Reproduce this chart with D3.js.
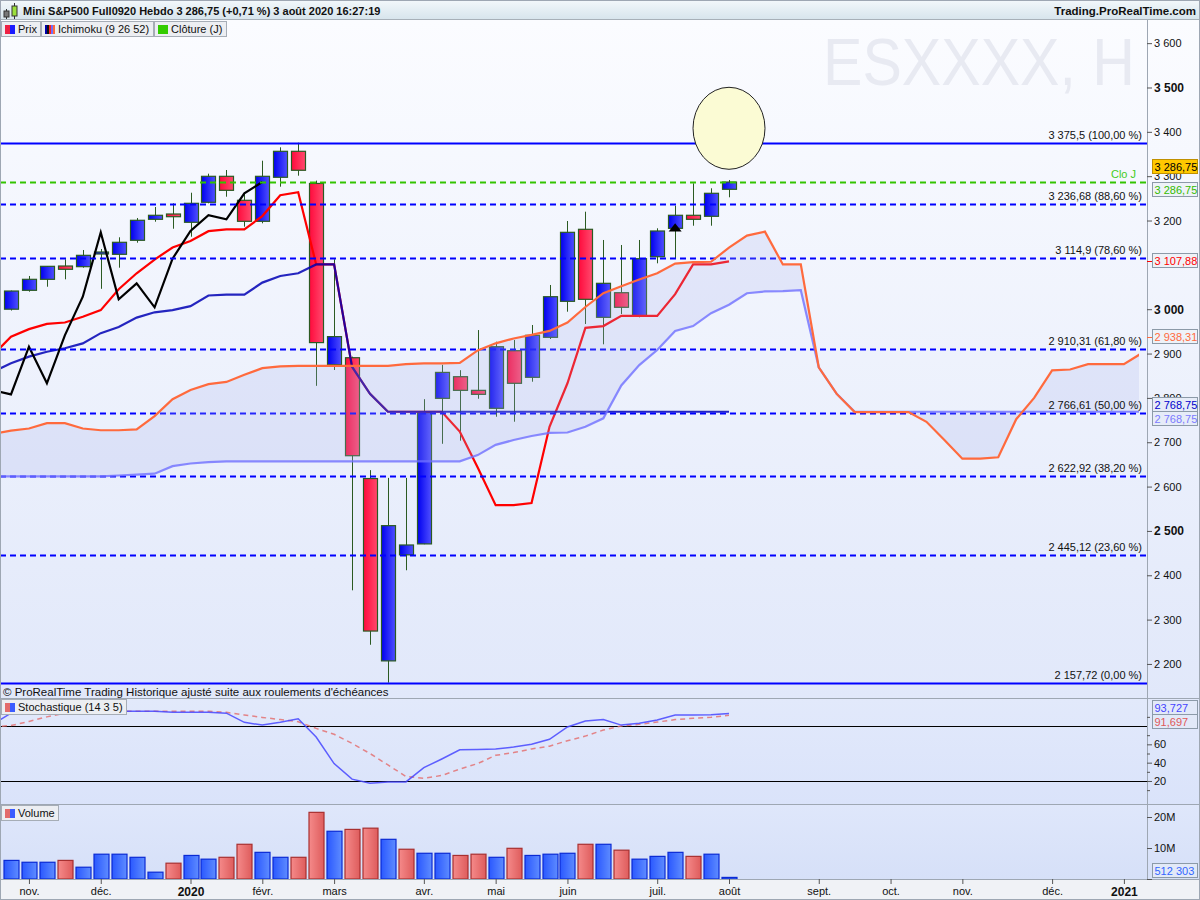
<!DOCTYPE html>
<html>
<head>
<meta charset="utf-8">
<script src="https://cdn.jsdelivr.net/npm/d3@7"></script>
<style>
  body { margin: 0; background: #fff; }
  svg { display: block; }
  text { font-family: "Liberation Sans", Arial, sans-serif; }
</style>
</head>
<body>
<svg id="chart" width="1200" height="900"></svg>
<script>
// weekly candles, bar 0 = week of 28 Oct 2019, bar 40 = week of 3 Aug 2020
const open  = [3000, 3042.6, 3067.4, 3097.4, 3095.9, 3128, 3123.8, 3155.4, 3202.7, 3214.7,
               3196, 3241.1, 3299.7, 3245.6, 3198.2, 3297.5, 3356.1, 3283.6, 2874.8, 2890.6,
               2618.1, 2206.9, 2446.1, 2470.7, 2799, 2847.8, 2817, 2776.5, 2906.4, 2846.4,
               2936.6, 3017.8, 3180.2, 2981.7, 3037.2, 2985.3, 3118.4, 3182.4, 3211.8, 3209.5, 3270.4];
const high  = [3042, 3074.9, 3097, 3112.5, 3133.5, 3135.8, 3162.2, 3205.7, 3230.5, 3238.8,
               3262.7, 3305.6, 3313.9, 3261.4, 3334.9, 3365.1, 3375.5, 3290, 3112.5, 2893,
               2637.1, 2619.6, 2619.6, 2797.1, 2874.5, 2862.5, 2953, 2926.7, 2930.5, 2964.4,
               3054.6, 3198.9, 3219.9, 3156.1, 3144.8, 3156.1, 3182.5, 3233.4, 3283.9, 3272.7, 3291.4];
const low   = [2997, 3039.5, 3050.7, 3067.4, 3093.6, 3046, 3093.6, 3150, 3197.3, 3181.5,
               3163.5, 3238.8, 3253.7, 3186.1, 3193.7, 3276.3, 3301.1, 2827.2, 2862.9, 2366.1,
               2243.3, 2157.72, 2411.3, 2470, 2696.5, 2703.5, 2798, 2757.5, 2746.3, 2836.5,
               2932.8, 2994.4, 2966.6, 2920.8, 2989.2, 2981.7, 3103.5, 3113.9, 3188.3, 3188.3, 3252.4];
const close = [3041, 3067.4, 3096.7, 3090, 3121.5, 3129, 3150.9, 3200.5, 3211.8, 3208.6,
               3238.8, 3299.7, 3268.1, 3198.2, 3299.7, 3356.1, 3313.3, 2924.7, 2938.2, 2669.6,
               2274.2, 2511.9, 2468.3, 2767, 2857.5, 2817, 2808, 2915.4, 2832.9, 2941.1,
               3028.2, 3173.4, 3022.3, 3058.4, 3004.3, 3113.9, 3176.4, 3211.8, 3202.7, 3261.4, 3286.75];
// volume, millions
const volume = [6.0, 5.4, 5.4, 6.0, 3.8, 8.0, 8.0, 7.0, 2.2, 5.1, 7.6, 6.4, 7.0, 11.2, 8.6, 7.0, 7.0,
                21.5, 15.4, 16.0, 16.4, 12.8, 9.6, 8.3, 8.3, 7.6, 8.0, 7.0, 9.9, 7.6, 8.0, 8.3,
                11.2, 11.2, 9.3, 6.4, 7.3, 8.6, 7.3, 8.0, 0.512303];

// ichimoku (9 26 52), arrays start at bar -1
const tenkan = [2897, 2938, 2955, 2967, 2970, 2983, 2998, 3045, 3081, 3112, 3139, 3154, 3176, 3180, 3180,
                3210, 3257, 3264, 3101, 3101, 2870, 2809, 2768.75, 2768.75, 2768.75, 2768.75, 2724,
                2643, 2558, 2558, 2563, 2735, 2833, 2958, 2962, 2985, 2985, 2985, 3034, 3101, 3101, 3107.88];
const kijun  = [2859, 2878, 2893, 2904, 2912, 2923, 2946, 2960, 2981, 2993, 2998, 3007, 3031, 3033, 3033,
                3060, 3075, 3081, 3101, 3101, 2870, 2809, 2768.75, 2768.75, 2768.75, 2768.75, 2768.75,
                2768.75, 2768.75, 2768.75, 2768.75, 2768.75, 2768.75, 2768.75, 2768.75, 2768.75,
                2768.75, 2768.75, 2768.75, 2768.75, 2768.75, 2768.75];
// leading spans, bar -1 to bar 66
const spanA  = [2719, 2726, 2731, 2743, 2743, 2731, 2727, 2727, 2729, 2759, 2797, 2818, 2831, 2836, 2852,
                2867, 2871, 2872, 2872, 2872, 2872, 2872, 2872, 2876, 2878, 2878, 2879, 2907, 2923, 2934,
                2942, 2951, 2970, 3005, 3036, 3052, 3067, 3081, 3103, 3106, 3107, 3139, 3166, 3175, 3101,
                3101, 2869, 2809, 2768, 2768, 2768, 2768, 2746, 2705, 2663, 2663, 2666, 2752, 2800, 2862,
                2864, 2876, 2876, 2876, 2901, 2935, 2935, 2938.31];
const spanB  = [2623, 2623, 2623, 2623, 2623, 2623, 2623, 2625, 2627, 2629, 2646, 2652, 2655, 2657, 2657,
                2657, 2657, 2657, 2657, 2657, 2657, 2657, 2657, 2657, 2657, 2657, 2657, 2671, 2694, 2705,
                2714, 2721, 2722, 2735, 2754, 2828, 2874, 2908, 2951, 2962, 2991, 3010, 3036, 3040, 3041,
                3043, 2869, 2809, 2768.75, 2768.75, 2768.75, 2768.75, 2768.75, 2768.75, 2768.75, 2768.75,
                2768.75, 2768.75, 2768.75, 2768.75, 2768.75, 2768.75, 2768.75, 2768.75, 2768.75, 2768.75,
                2768.75, 2768.75];
const lineStart = -1;
const chikouShift = 26;

// stochastic (14 3 5), start at bar -1
const stochK = [82, 94, 96, 97, 97, 96, 96, 96, 96, 96, 95, 95, 95, 94, 84, 81, 84, 88, 68, 39, 22, 17.5,
                19, 19, 34.5, 44, 54, 54.5, 55, 57, 60, 65.5, 79, 85.4, 87, 81, 83, 86.5, 92, 92, 92.3, 93.727];
const stochD = [79, 80.5, 85, 90, 94, 95, 96, 96, 96, 96, 96, 96, 96, 95, 92, 89.4, 87, 84.7, 77.4, 71,
                61, 50, 37.5, 25, 23, 26, 33, 39, 48, 51, 55, 58, 64, 69, 75.6, 80, 81.8, 84.3, 87, 88.4,
                89.5, 91.697];

// fibonacci retracement
const fibLevels = [3375.5, 3236.68, 3114.9, 2910.31, 2766.61, 2622.92, 2445.12, 2157.72];
const fibPct    = [100, 88.6, 78.6, 61.8, 50, 38.2, 23.6, 0];
const dailyClose = 3286.75;

// 3 100 and 80 sit under the value tags in the original, so they are left out
const priceTicks = [3600, 3500, 3400, 3300, 3200, 3000, 2900, 2800, 2700, 2600, 2500, 2400, 2300, 2200];
const boldTicks  = [3500, 3000, 2500];
const stochTicks = [10, 20, 30, 40, 50, 60, 70, 90];
const stochLabels = [20, 40, 60];
const monthIdx    = [1, 5, 10, 14, 18, 23, 27, 31, 36, 40, 45, 49, 53, 58, 62];
const monthLabels = ["nov.", "déc.", "2020", "févr.", "mars", "avr.", "mai", "juin", "juil.", "août",
                     "sept.", "oct.", "nov.", "déc.", "2021"];
const signalBar = 37;

const fr = d3.formatLocale({decimal: ",", thousands: " ", grouping: [3], currency: ["", ""]});
const fmtPrice = fr.format(",.2~f");
const fmtFixed = fr.format(",.2f");
const fmtInt = fr.format(",d");
const fmtStoch = fr.format(".3f");

const svg = d3.select("#chart");
const W = 1200, H = 900;
const plotR = 1147;
const main = {top: 20, bottom: 698};
const sto = {top: 698, bottom: 804};
const vol = {top: 804, bottom: 879};

const x = d3.scaleLinear().domain([0, 40]).range([11, 729]);
const y = d3.scaleLinear().domain([2157.72, 3375.5]).range([682.7, 142.7]);
const ys = d3.scaleLinear().domain([0, 100]).range([799.3, 707.7]);
const yv = d3.scaleLinear().domain([0, 20]).range([879, 817]);

const defs = svg.append("defs");
function vgrad(id, c0, c1) {
    const g = defs.append("linearGradient").attr("id", id).attr("x1", 0).attr("y1", 0).attr("x2", 0).attr("y2", 1);
    g.append("stop").attr("offset", "0%").attr("stop-color", c0);
    g.append("stop").attr("offset", "100%").attr("stop-color", c1);
}
function hgrad(id, c0, c1) {
    const g = defs.append("linearGradient").attr("id", id).attr("x1", 0).attr("y1", 0).attr("x2", 1).attr("y2", 0);
    g.append("stop").attr("offset", "0%").attr("stop-color", c0);
    g.append("stop").attr("offset", "100%").attr("stop-color", c1);
}
vgrad("gHeader", "#f3f8fb", "#d6e4ec");
vgrad("gMain", "#fbfcff", "#e1e8fa");
vgrad("gSto", "#e2e9fb", "#dae3fa");
vgrad("gVol", "#dfe7fb", "#d6e0f8");
hgrad("gBlue", "#0000f0", "#5050ff");
hgrad("gRed", "#ff0a3c", "#ff4a6e");
hgrad("gVBlue", "#2a58ff", "#5e8cff");
hgrad("gVRed", "#f58a8a", "#de5c5c");

defs.append("clipPath").attr("id", "clipMain").append("rect")
    .attr("x", 0).attr("y", main.top).attr("width", plotR).attr("height", main.bottom - main.top);
defs.append("clipPath").attr("id", "clipCloud").append("rect")
    .attr("x", 0).attr("y", main.top).attr("width", 1139).attr("height", main.bottom - main.top);

// backgrounds
svg.append("rect").attr("width", W).attr("height", H).attr("fill", "#f0f2f6");
svg.append("rect").attr("x", 0).attr("y", main.top).attr("width", W).attr("height", main.bottom - main.top).attr("fill", "url(#gMain)");
svg.append("rect").attr("x", 0).attr("y", sto.top).attr("width", W).attr("height", sto.bottom - sto.top).attr("fill", "url(#gSto)");
svg.append("rect").attr("x", 0).attr("y", vol.top).attr("width", W).attr("height", vol.bottom - vol.top).attr("fill", "url(#gVol)");

// header
svg.append("rect").attr("width", W).attr("height", main.top).attr("fill", "url(#gHeader)");
svg.append("line").attr("x1", 0).attr("x2", W).attr("y1", main.top - 0.5).attr("y2", main.top - 0.5).attr("stroke", "#a7b0b8");
const icon = svg.append("g");
icon.append("line").attr("x1", 6.5).attr("x2", 6.5).attr("y1", 9).attr("y2", 19).attr("stroke", "#333");
icon.append("rect").attr("x", 4).attr("y", 11).attr("width", 5).attr("height", 6).attr("fill", "#777").attr("stroke", "#333");
icon.append("line").attr("x1", 14.5).attr("x2", 14.5).attr("y1", 3).attr("y2", 19).attr("stroke", "#333");
icon.append("rect").attr("x", 12).attr("y", 6).attr("width", 5).attr("height", 10).attr("fill", "#9be03c").attr("stroke", "#333");
svg.append("text").attr("x", 23).attr("y", 15).attr("font-size", 11).attr("font-weight", "bold").attr("fill", "#111")
    .text("Mini S&P500 Full0920 Hebdo " + fmtPrice(close[close.length - 1]) + " (+0,71 %) 3 août 2020 16:27:19");
svg.append("text").attr("x", 1196).attr("y", 15).attr("font-size", 11.5).attr("font-weight", "bold").attr("fill", "#111")
    .attr("text-anchor", "end").text("Trading.ProRealTime.com");

// watermark, narrow font stretched up
svg.append("text").attr("transform", "translate(823,85) scale(1,1.27)").attr("font-size", 52).attr("fill", "#e8eaf2")
    .attr("textLength", 312).attr("lengthAdjust", "spacingAndGlyphs").text("ESXXXX, H");

const gm = svg.append("g").attr("clip-path", "url(#clipMain)");
const idx = (arr, start) => arr.map((v, i) => [i + start, v]);

// kumo
const cloudData = spanA.map((a, i) => [i + lineStart, a, spanB[i]]);
const gc = svg.append("g").attr("clip-path", "url(#clipCloud)");
gc.append("path").datum(cloudData)
    .attr("d", d3.area().x(d => x(d[0])).y0(d => y(d[1])).y1(d => y(d[2])))
    .attr("fill", "#aab0ee").attr("opacity", 0.22);

// candles
const candles = gm.append("g").selectAll("g").data(d3.range(open.length)).join("g");
candles.append("line")
    .attr("x1", i => Math.round(x(i)) + 0.5).attr("x2", i => Math.round(x(i)) + 0.5)
    .attr("y1", i => y(high[i])).attr("y2", i => y(low[i]))
    .attr("stroke", "#2b5a22").attr("stroke-width", 1);
candles.append("rect")
    .attr("x", i => Math.round(x(i)) - 6.5)
    .attr("width", 14)
    .attr("y", i => y(Math.max(open[i], close[i])))
    .attr("height", i => Math.max(2, y(Math.min(open[i], close[i])) - y(Math.max(open[i], close[i]))))
    .attr("fill", i => close[i] >= open[i] ? "url(#gBlue)" : "url(#gRed)")
    .attr("stroke", "#2b5a22").attr("stroke-width", 1.2);

// ichimoku lines
const line = d3.line().x(d => x(d[0])).y(d => y(d[1]));
const lc = svg.append("g").attr("clip-path", "url(#clipCloud)");
lc.append("path").datum(idx(spanB, lineStart)).attr("d", line)
    .attr("fill", "none").attr("stroke", "#6f6fff").attr("stroke-opacity", 0.8).attr("stroke-width", 2.2);
lc.append("path").datum(idx(spanA, lineStart)).attr("d", line)
    .attr("fill", "none").attr("stroke", "#ff6a3d").attr("stroke-width", 2.2);
gm.append("path").datum(idx(tenkan, lineStart)).attr("d", line)
    .attr("fill", "none").attr("stroke", "#ff0000").attr("stroke-width", 2.2);
gm.append("path").datum(idx(kijun, lineStart)).attr("d", line)
    .attr("fill", "none").attr("stroke", "#0000b4").attr("stroke-opacity", 0.85).attr("stroke-width", 2.2);
const chikou = close.map((c, i) => [i - chikouShift, c]).filter(d => d[0] >= lineStart);
gm.append("path").datum(chikou).attr("d", line)
    .attr("fill", "none").attr("stroke", "#000").attr("stroke-width", 2.2);

// fib lines
const fib = gm.append("g").selectAll("g").data(fibLevels).join("g");
fib.append("line")
    .attr("x1", 0).attr("x2", plotR)
    .attr("y1", d => Math.round(y(d)) + 0.5).attr("y2", d => Math.round(y(d)) + 0.5)
    .attr("stroke", "#0000ff").attr("stroke-width", 2)
    .attr("stroke-dasharray", (d, i) => (i === 0 || i === fibLevels.length - 1) ? null : "6,4");
svg.append("g").selectAll("text").data(fibLevels).join("text")
    .attr("x", 1142).attr("y", d => Math.round(y(d)) - 4)
    .attr("text-anchor", "end").attr("font-size", 11).attr("fill", "#111")
    .text((d, i) => fmtPrice(d) + " (" + fmtFixed(fibPct[i]) + " %)");

// daily close
gm.append("line").attr("x1", 0).attr("x2", plotR)
    .attr("y1", Math.round(y(dailyClose)) + 0.5).attr("y2", Math.round(y(dailyClose)) + 0.5)
    .attr("stroke", "#33c400").attr("stroke-width", 2).attr("stroke-dasharray", "6,4");
svg.append("text").attr("x", 1136).attr("y", y(dailyClose) - 4).attr("text-anchor", "end")
    .attr("font-size", 11).attr("fill", "#44cc22").text("Clo J");

// annotations
svg.append("ellipse").attr("cx", x(40)).attr("cy", y(3408)).attr("rx", 36).attr("ry", 41)
    .attr("fill", "#fbfbd4").attr("stroke", "#222").attr("stroke-width", 1);
svg.append("path")
    .attr("d", `M${x(signalBar)},${y(3194)}L${x(signalBar) + 6.5},${y(3175)}L${x(signalBar) - 6.5},${y(3175)}Z`)
    .attr("fill", "#000");

// bottom text of main pane
svg.append("text").attr("x", 3).attr("y", 696).attr("font-size", 11.5).attr("fill", "#111")
    .text("© ProRealTime Trading  Historique ajusté suite aux roulements d'échéances");

// stochastic
const gs = svg.append("g");
[80, 20].forEach(v => gs.append("line").attr("x1", 0).attr("x2", plotR)
    .attr("y1", Math.round(ys(v)) + 0.5).attr("y2", Math.round(ys(v)) + 0.5).attr("stroke", "#000"));
const sline = d3.line().x(d => x(d[0])).y(d => ys(d[1]));
gs.append("path").datum(idx(stochD, lineStart)).attr("d", sline)
    .attr("fill", "none").attr("stroke", "#e46a6a").attr("stroke-opacity", 0.8).attr("stroke-width", 1.5).attr("stroke-dasharray", "5,4");
gs.append("path").datum(idx(stochK, lineStart)).attr("d", sline)
    .attr("fill", "none").attr("stroke", "#4545ff").attr("stroke-opacity", 0.85).attr("stroke-width", 1.5);

// volume
svg.append("g").selectAll("rect").data(volume).join("rect")
    .attr("x", (d, i) => Math.round(x(i)) - 7)
    .attr("width", 15)
    .attr("y", d => yv(d))
    .attr("height", d => Math.max(1, yv(0) - yv(d)))
    .attr("fill", (d, i) => (i === 0 || close[i] >= close[i - 1]) ? "url(#gVBlue)" : "url(#gVRed)")
    .attr("stroke", (d, i) => (i === 0 || close[i] >= close[i - 1]) ? "#0a2ad4" : "#a83030")
    .attr("stroke-width", 1.2);

// pane borders
[sto.top, vol.top, vol.bottom].forEach(v => svg.append("line").attr("x1", 0).attr("x2", W)
    .attr("y1", v + 0.5).attr("y2", v + 0.5).attr("stroke", "#9ea7b3"));
svg.append("line").attr("x1", plotR + 0.5).attr("x2", plotR + 0.5).attr("y1", main.top).attr("y2", vol.bottom)
    .attr("stroke", "#9ea7b3");
svg.append("rect").attr("x", 0.5).attr("y", 0.5).attr("width", W - 1).attr("height", H - 1)
    .attr("fill", "none").attr("stroke", "#9ea7b3");

// axes
function styleAxis(g) {
    g.select(".domain").remove();
    g.selectAll(".tick line").attr("stroke", "#555");
    g.selectAll(".tick text").attr("fill", "#111").attr("font-size", 11)
        .attr("font-family", '"Liberation Sans", Arial, sans-serif');
}
const ay = svg.append("g").attr("transform", `translate(${plotR},0)`)
    .call(d3.axisRight(y).tickValues(priceTicks).tickFormat(fmtInt).tickSize(5).tickPadding(2));
styleAxis(ay);
ay.selectAll(".tick text").filter(d => boldTicks.includes(d)).attr("font-weight", "bold").attr("font-size", 12);

const as = svg.append("g").attr("transform", `translate(${plotR},0)`)
    .call(d3.axisRight(ys).tickValues(stochTicks)
        .tickFormat(d => stochLabels.includes(d) ? d : "").tickSize(5).tickPadding(2));
styleAxis(as);
as.selectAll(".tick line").attr("x2", d => stochLabels.includes(d) ? 5 : 3);

const av = svg.append("g").attr("transform", `translate(${plotR},0)`)
    .call(d3.axisRight(yv).tickValues([0, 10, 20]).tickFormat(d => d ? d + "M" : "").tickSize(5).tickPadding(2));
styleAxis(av);

const ax = svg.append("g").attr("transform", `translate(0,${vol.bottom})`)
    .call(d3.axisBottom(x).tickValues(monthIdx).tickFormat((d, i) => monthLabels[i]).tickSize(5).tickPadding(3));
styleAxis(ax);
ax.selectAll(".tick text").filter((d, i) => /^\d+$/.test(monthLabels[i])).attr("font-weight", "bold").attr("font-size", 12);

// last value tags on the right axis
const tags = [
    {v: close[close.length - 1], yy: y(close[close.length - 1]) - 15, col: "#000", bg: "#ffc800", bd: "#c09000", f: fmtFixed},
    {v: dailyClose, yy: y(dailyClose) + 8, col: "#33bb00", bg: "#eef2f8", bd: "#8c9aa8", f: fmtFixed},
    {v: tenkan[tenkan.length - 1], yy: y(tenkan[tenkan.length - 1]), col: "#ff0000", bg: "#eef2f8", bd: "#8c9aa8", f: fmtFixed},
    {v: spanA[spanA.length - 1], yy: y(spanA[spanA.length - 1]), col: "#ff6a3d", bg: "#eef2f8", bd: "#8c9aa8", f: fmtFixed},
    {v: kijun[kijun.length - 1], yy: y(kijun[kijun.length - 1]) - 7, col: "#0000cc", bg: "#e6ecf8", bd: "#8c9aa8", f: fmtFixed},
    {v: spanB[spanB.length - 1], yy: y(spanB[spanB.length - 1]) + 7, col: "#7a7aff", bg: "#e6ecf8", bd: "#8c9aa8", f: fmtFixed},
    {v: stochK[stochK.length - 1], yy: ys(stochK[stochK.length - 1]) - 5, col: "#4545ff", bg: "#e2e9f8", bd: "#8c9aa8", f: fmtStoch},
    {v: stochD[stochD.length - 1], yy: ys(stochD[stochD.length - 1]) + 7, col: "#e05a5a", bg: "#e2e9f8", bd: "#8c9aa8", f: fmtStoch},
    {v: volume[volume.length - 1], yy: yv(volume[volume.length - 1]) - 6, col: "#3366ff", bg: "#e2e9f8", bd: "#8c9aa8", f: d => fmtInt(Math.round(d * 1e6))}
];
svg.append("g").selectAll("line").data(tags.slice(2, 4)).join("line")
    .attr("x1", plotR).attr("x2", plotR + 5).attr("y1", d => Math.round(d.yy) + 0.5).attr("y2", d => Math.round(d.yy) + 0.5)
    .attr("stroke", d => d.col);
const tg = svg.append("g").selectAll("g").data(tags).join("g")
    .attr("transform", d => `translate(1152.5,${Math.round(d.yy) - 7.5})`);
tg.append("rect").attr("width", 45).attr("height", 14).attr("fill", d => d.bg).attr("stroke", d => d.bd);
tg.append("text").attr("x", 2).attr("y", 11).attr("font-size", 11).attr("fill", d => d.col).text(d => d.f(d.v));

// legends
function legend(x0, y0, label, colors) {
    const g = svg.append("g").attr("transform", `translate(${x0},${y0})`);
    const box = g.append("rect").attr("x", 0.5).attr("y", 0.5).attr("height", 15)
        .attr("fill", "#eceef2").attr("stroke", "#a6adb6");
    const cw = 10 / colors.length;
    colors.forEach((c, i) => g.append("rect").attr("x", 4 + i * cw).attr("y", 4).attr("width", cw).attr("height", 9).attr("fill", c));
    const t = g.append("text").attr("x", 17).attr("y", 12).attr("font-size", 11).attr("fill", "#111").text(label);
    const w = Math.ceil(t.node().getComputedTextLength()) + 20;
    box.attr("width", w);
    return x0 + w + 1;
}
let lx = legend(1, 21, "Prix", ["#ee2244", "#1a1aff"]);
lx = legend(lx, 21, "Ichimoku (9 26 52)", ["#0000aa", "#111", "#ff2222", "#6f6fff", "#ff6a3d"]);
legend(lx, 21, "Clôture (J)", ["#33cc00"]);
legend(1, 699, "Stochastique (14 3 5)", ["#e36b6b", "#3b5cff"]);
legend(1, 805, "Volume", ["#e36b6b", "#3b5cff"]);
</script>
</body>
</html>
